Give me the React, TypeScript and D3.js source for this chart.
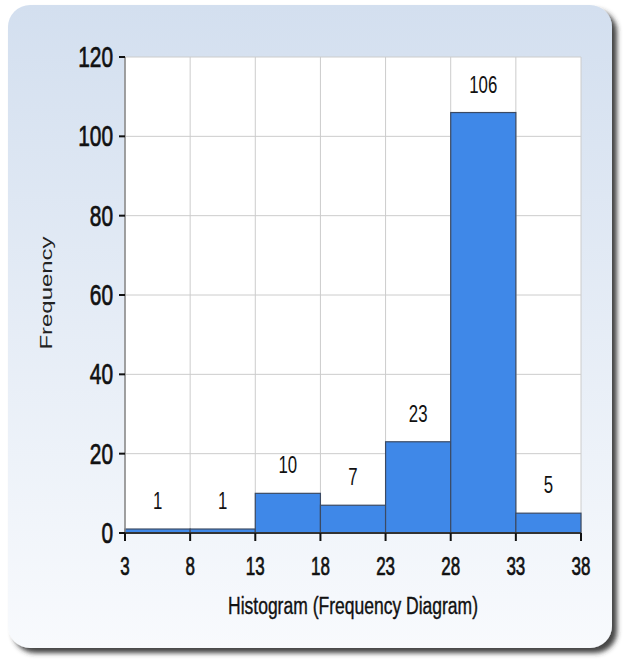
import React from 'react';
import * as d3 from 'd3';

const binEdges = [3, 8, 13, 18, 23, 28, 33, 38];
const frequencies = [1, 1, 10, 7, 23, 106, 5];
const yTicks = [0, 20, 40, 60, 80, 100, 120];

const W = 625;
const H = 660;
const margin = { top: 57, right: 44, bottom: 127, left: 125 };

const App: React.FC = () => {
  const x = d3.scaleLinear().domain([3, 38]).range([margin.left, W - margin.right]);
  const y = d3.scaleLinear().domain([0, 120]).range([H - margin.bottom, margin.top]);
  const bins = frequencies.map((f, i) => ({ x0: binEdges[i], x1: binEdges[i + 1], f }));
  const font = '"Liberation Sans", Arial, sans-serif';
  const x0 = x(3), x1 = x(38), y0 = y(0), y1 = y(120);

  return (
    <svg width={W} height={H} style={{ position: 'absolute', left: 0, top: 0 }}>
      <defs>
        <linearGradient id="bg" x1="0" y1="0" x2="0" y2="1">
          <stop offset="0" stopColor="#d3dfef" />
          <stop offset="1" stopColor="#f8fafd" />
        </linearGradient>
        <filter id="shadow" x="-5%" y="-5%" width="115%" height="115%">
          <feDropShadow dx="5" dy="5" stdDeviation="2.5" floodColor="#333" floodOpacity="0.9" />
        </filter>
      </defs>
      <rect x={8} y={5} width={604} height={643} rx={22} fill="url(#bg)" filter="url(#shadow)" />
      <rect x={x0} y={y1} width={x1 - x0} height={y0 - y1} fill="#fff" />
      {/* grid */}
      {binEdges.map(v => (
        <line key={'gx' + v} x1={x(v)} x2={x(v)} y1={y1} y2={y0} stroke="#cccccc" strokeWidth={1} />
      ))}
      {yTicks.map(v => (
        <line key={'gy' + v} x1={x0} x2={x1} y1={y(v)} y2={y(v)} stroke="#cccccc" strokeWidth={1} />
      ))}
      {/* bars */}
      {bins.map((b, i) => (
        <rect key={'b' + i} x={x(b.x0)} y={y(b.f)} width={x(b.x1) - x(b.x0)} height={y0 - y(b.f)}
          fill="#3f88e8" stroke="#3b4a63" strokeWidth={1.2} />
      ))}
      {bins.map((b, i) => (
        <text key={'l' + i} transform={`translate(${(x(b.x0) + x(b.x1)) / 2},${y(b.f) - 20}) scale(0.7,1)`}
          textAnchor="middle" fontFamily={font} fontSize={24} fill="#111">{b.f}</text>
      ))}
      {/* axes */}
      <line x1={x0} x2={x0} y1={y1} y2={y0} stroke="#888" strokeWidth={1.5} />
      <line x1={x0} x2={x1} y1={y0} y2={y0} stroke="#333" strokeWidth={2} />
      {yTicks.map(v => (
        <g key={'yt' + v}>
          <line x1={x0 - 6} x2={x0} y1={y(v)} y2={y(v)} stroke="#111" strokeWidth={2} />
          <text transform={`translate(${x0 - 12},${y(v) + 10}) scale(0.72,1)`} textAnchor="end"
            fontFamily={font} fontSize={29} fill="#111" stroke="#111" strokeWidth={0.7}>{v}</text>
        </g>
      ))}
      {binEdges.map(v => (
        <g key={'xt' + v}>
          <line x1={x(v)} x2={x(v)} y1={y0} y2={y0 + 8} stroke="#111" strokeWidth={2} />
          <text transform={`translate(${x(v)},${y0 + 42}) scale(0.68,1)`} textAnchor="middle"
            fontFamily={font} fontSize={25} fill="#111" stroke="#111" strokeWidth={0.7}>{v}</text>
        </g>
      ))}
      <text x={353} y={614} textAnchor="middle" fontFamily={font} fontSize={23} fill="#111"
        stroke="#111" strokeWidth={0.4}
        textLength={250} lengthAdjust="spacingAndGlyphs">Histogram (Frequency Diagram)</text>
      <text transform={`translate(52,293) rotate(-90)`} textAnchor="middle" fontFamily={font}
        fontSize={17} fill="#222" textLength={113} lengthAdjust="spacingAndGlyphs">Frequency</text>
    </svg>
  );
};

export default App;
